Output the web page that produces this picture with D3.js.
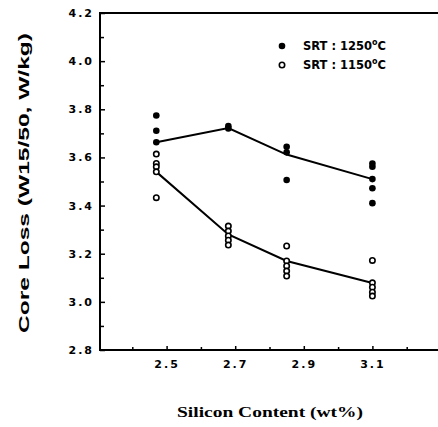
<!DOCTYPE html>
<html>
<head>
<meta charset="utf-8">
<script src="https://cdn.jsdelivr.net/npm/d3@7"></script>
<style>
	html, body { margin: 0; padding: 0; background: #fff; }
	svg { display: block; }
	.tick text { font-family: 'DejaVu Sans', sans-serif; font-weight: bold; font-size: 11px; letter-spacing: 2px; fill: #000; }
</style>
</head>
<body>
<div id="chart"></div>
<script>
// silicon contents of the samples
const siliconX = [2.47, 2.68, 2.85, 3.10]

// measured core loss, SRT 1250 C (filled)
const hot = [
	[3.774, 3.711, 3.663],
	[3.730, 3.720],
	[3.644, 3.621, 3.506],
	[3.575, 3.561, 3.510, 3.472, 3.410]
]
// measured core loss, SRT 1150 C (open)
const cold = [
	[3.614, 3.575, 3.561, 3.540, 3.433],
	[3.315, 3.294, 3.274, 3.256, 3.236],
	[3.232, 3.170, 3.149, 3.128, 3.107],
	[3.172, 3.079, 3.061, 3.040, 3.024]
]
// trend lines
const hotLine = [3.663, 3.722, 3.612, 3.510]
const coldLine = [3.540, 3.280, 3.170, 3.078]

const yTicks = [2.8, 3.0, 3.2, 3.4, 3.6, 3.8, 4.0, 4.2]
const yMinor = [2.9, 3.1, 3.3, 3.5, 3.7, 3.9, 4.1]
const xTicks = [2.5, 2.7, 2.9, 3.1]
const xMinor = [2.4, 2.6, 2.8, 3.0, 3.2]

const W = 438, H = 427
const svg = d3.select('#chart').append('svg')
	.attr('width', W).attr('height', H)

const x = d3.scaleLinear().domain([2.3, 3.3]).range([98, 441])
const y = d3.scaleLinear().domain([2.8, 4.2]).range([350, 13])
const fmt = d3.format('.1f')

// frame: left, top, bottom
svg.append('path')
	.attr('d', `M${W},${y(4.2)}H${x(2.3) + 2}V${y(2.8)}H${W}`)
	.attr('fill', 'none').attr('stroke', '#000').attr('stroke-width', 2)

// y axis
const gy = svg.append('g').attr('transform', `translate(${x(2.3) + 2},0)`)
gy.call(d3.axisLeft(y).tickValues(yTicks).tickFormat(fmt).tickSize(-5).tickPadding(6))
gy.select('.domain').remove()
const gy2 = svg.append('g').attr('transform', `translate(${x(2.3) + 2},0)`)
gy2.call(d3.axisLeft(y).tickValues(yMinor).tickFormat('').tickSize(-4))
gy2.select('.domain').remove()

// x axis
const gx = svg.append('g').attr('transform', `translate(0,${y(2.8)})`)
gx.call(d3.axisBottom(x).tickValues(xTicks).tickFormat(fmt).tickSize(-4).tickPadding(10))
gx.select('.domain').remove()
const gx2 = svg.append('g').attr('transform', `translate(0,${y(2.8)})`)
gx2.call(d3.axisBottom(x).tickValues(xMinor).tickFormat('').tickSize(-3))
gx2.select('.domain').remove()
svg.selectAll('.tick line').attr('stroke', '#000').attr('stroke-width', 1.5)

// trend lines
const line = d3.line().x((d, i) => x(siliconX[i])).y((d) => y(d))
;[hotLine, coldLine].forEach((s) => {
	svg.append('path').attr('d', line(s))
		.attr('fill', 'none').attr('stroke', '#000').attr('stroke-width', 2)
})

// points
const flat = (arr) => arr.flatMap((vals, i) => vals.map((v) => ({ x: siliconX[i], v })))
svg.append('g').selectAll('circle').data(flat(hot)).enter().append('circle')
	.attr('cx', (d) => x(d.x)).attr('cy', (d) => y(d.v)).attr('r', 3.3)
	.attr('fill', '#000')
svg.append('g').selectAll('circle').data(flat(cold)).enter().append('circle')
	.attr('cx', (d) => x(d.x)).attr('cy', (d) => y(d.v)).attr('r', 2.7)
	.attr('fill', '#fff').attr('stroke', '#000').attr('stroke-width', 1.6)

// legend
const legend = [
	{ label: '1250', filled: true },
	{ label: '1150', filled: false }
]
const lg = svg.append('g').attr('transform', 'translate(282,46)')
legend.forEach((d, i) => {
	const row = lg.append('g').attr('transform', `translate(0,${i * 19})`)
	row.append('circle').attr('r', d.filled ? 3.3 : 2.7)
		.attr('fill', d.filled ? '#000' : '#fff').attr('stroke', '#000').attr('stroke-width', d.filled ? 0 : 1.6)
	const t = row.append('text').attr('x', 21).attr('y', 4)
		.style('font-family', "'DejaVu Sans', sans-serif").style('font-weight', 'bold').style('font-size', '11.5px')
	t.append('tspan').text(`SRT : ${d.label}`)
	t.append('tspan').text('o').attr('dy', -5).style('font-size', '8px')
	t.append('tspan').text('C').attr('dy', 5)
})

// axis titles
svg.append('text')
	.attr('transform', `translate(29,${183}) rotate(-90)`)
	.attr('text-anchor', 'middle')
	.attr('textLength', 300).attr('lengthAdjust', 'spacingAndGlyphs')
	.style('font-family', "'Liberation Sans', sans-serif").style('font-weight', 'bold').style('font-size', '14px')
	.text('Core Loss (W15/50, W/kg)')

svg.append('text')
	.attr('x', 270).attr('y', 417)
	.attr('text-anchor', 'middle')
	.attr('textLength', 186).attr('lengthAdjust', 'spacingAndGlyphs')
	.style('font-family', "'Liberation Serif', serif").style('font-weight', 'bold').style('font-size', '15px')
	.text('Silicon Content (wt%)')
</script>
</body>
</html>
